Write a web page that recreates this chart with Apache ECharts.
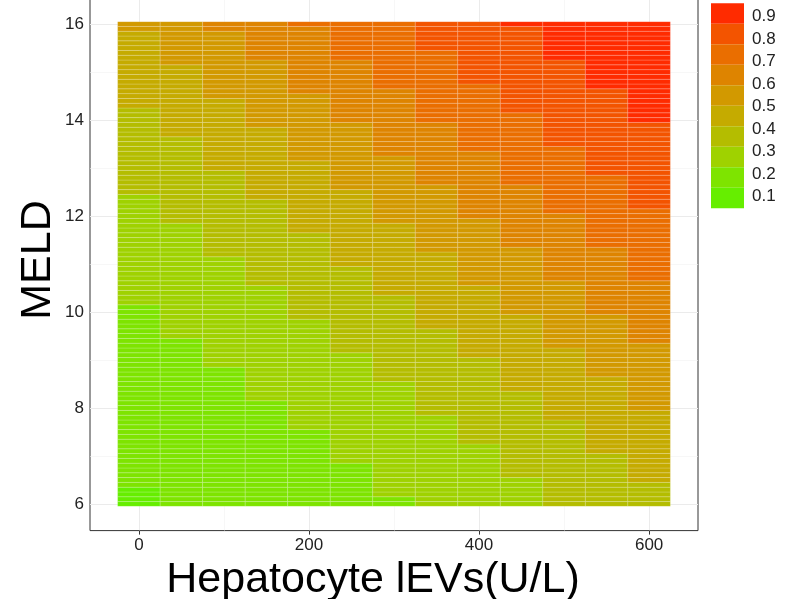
<!DOCTYPE html>
<html>
<head>
<meta charset="utf-8">
<title>MELD vs Hepatocyte lEVs</title>
<script src="https://cdn.jsdelivr.net/npm/echarts@6/dist/echarts.min.js"></script>
<style>
  html, body { margin: 0; padding: 0; background: #fff; }
  #chart { width: 798px; height: 599px; }
</style>
</head>
<body>
<div id="chart"></div>
<script>
// x categories (Hepatocyte lEVs, U/L) - one tile column each
const xValues = [0, 50, 100, 150, 200, 250, 300, 350, 400, 450, 500, 550, 600];
// MELD rows 6.0 .. 16.0 by 0.1
const meldFrom = 6, meldTo = 16, meldStep = 0.1;
// probability for each colour level (1..10)
const levelValues = [0.094, 0.185, 0.276, 0.367, 0.458, 0.55, 0.641, 0.732, 0.823, 0.914];
// level of the bottom row in every column
const bottomLevel = [1, 2, 2, 2, 2, 2, 2, 3, 3, 3, 4, 4, 4];
// MELD where the column goes up one level
const levelSteps = [
  [6.4, 10.2, 12.5, 14.3, 15.9],
  [9.5, 11.9, 13.7, 15.2],
  [8.9, 11.2, 13.0, 14.5, 15.9],
  [8.2, 10.6, 12.4, 13.9, 15.3],
  [7.6, 9.9, 11.7, 13.2, 14.6, 16.0],
  [6.9, 9.2, 11.0, 12.6, 14.0, 15.3],
  [6.2, 8.6, 10.4, 11.9, 13.3, 14.7],
  [7.9, 9.7, 11.3, 12.7, 14.0, 15.5],
  [7.3, 9.1, 10.6, 12.0, 13.4, 14.8],
  [6.6, 8.4, 10.0, 11.4, 12.7, 14.2, 16.0],
  [7.8, 9.3, 10.7, 12.1, 13.5, 15.3],
  [7.1, 8.7, 10.0, 11.4, 12.9, 14.7],
  [6.5, 8.0, 9.4, 10.7, 12.2, 14.0]
];
// colour bar
const barMin = 0.048, barMax = 0.96;
const barLabels = [0.1, 0.2, 0.3, 0.4, 0.5, 0.6, 0.7, 0.8, 0.9];
const xTicks = [0, 200, 400, 600], xMinor = [100, 300, 500];
const yTicks = [6, 8, 10, 12, 14, 16], yMinor = [7, 9, 11, 13, 15];

const levelColors = ['#66EE00', '#7EE400', '#9FD200', '#B4BD00', '#C5AB00',
                     '#D29900', '#DE8400', '#EA6E00', '#F35400', '#FF2B00'];

let cells = [];
for (let c = 0; c < xValues.length; c++) {
  const nRows = Math.round((meldTo - meldFrom) / meldStep);
  for (let k = 0; k <= nRows; k++) {
    const meld = Math.round((meldFrom + k * meldStep) * 10) / 10;
    const lvl = bottomLevel[c] + levelSteps[c].filter(s => meld >= s - 1e-9).length;
    cells.push([xValues[c], meld, levelValues[lvl - 1]]);
  }
}

let pieces = [];
const binW = (barMax - barMin) / levelColors.length;
for (let i = 0; i < levelColors.length; i++) {
  pieces.push({ min: barMin + i * binW, max: barMin + (i + 1) * binW, color: levelColors[i] });
}

const halfW = 25, halfH = 0.05;
function renderTile(params, api) {
  const x = api.value(0), y = api.value(1);
  const p0 = api.coord([x - halfW, y + halfH]);
  const p1 = api.coord([x + halfW, y - halfH]);
  return {
    type: 'rect',
    shape: { x: p0[0], y: p0[1], width: p1[0] - p0[0], height: p1[1] - p0[1] },
    style: { fill: api.visual('color'), stroke: 'rgba(255,255,255,0.3)', lineWidth: 0.6 }
  };
}

const font = "'Liberation Sans', Arial, Helvetica, sans-serif";
const chart = echarts.init(document.getElementById('chart'));
chart.setOption({
  animation: false,
  backgroundColor: '#fff',
  textStyle: { fontFamily: font },
  grid: [
    { left: 90, top: -2.6, width: 608, height: 533.2, show: true, outerBoundsMode: 'none',
      containLabel: false, borderColor: '#333', borderWidth: 1, backgroundColor: '#fff' },
    { left: 711, top: 3.3, width: 33, height: 205, outerBoundsMode: 'none', containLabel: false }
  ],
  xAxis: [
    {
      type: 'value', gridIndex: 0, min: -57.5, max: 657.5, position: 'bottom',
      name: 'Hepatocyte lEVs(U/L)', nameLocation: 'middle', nameGap: 22,
      nameTextStyle: { fontSize: 43, color: '#000', fontFamily: font, padding: [0, 42, 0, 0] },
      axisLine: { show: false },
      axisTick: { show: true, length: 4, lineStyle: { color: '#333' }, customValues: xTicks },
      axisLabel: { fontSize: 17, color: '#222', margin: 6, customValues: xTicks },
      splitLine: { show: true, lineStyle: { color: '#EBEBEB', width: 1 } }
    },
    {
      type: 'value', gridIndex: 0, min: -57.5, max: 657.5, position: 'top',
      axisLine: { show: false }, axisLabel: { show: false },
      axisTick: { show: false, customValues: xMinor },
      splitLine: { show: true, lineStyle: { color: '#F2F2F2', width: 0.6 } }
    },
    { type: 'value', gridIndex: 1, min: 0, max: 1, show: false }
  ],
  yAxis: [
    {
      type: 'value', gridIndex: 0, min: 5.445, max: 16.555, position: 'left',
      name: 'MELD', nameLocation: 'middle', nameGap: 30, nameMoveOverlap: false,
      nameTextStyle: { fontSize: 43, color: '#000', fontFamily: font, padding: [0, 0, 0, 8] },
      axisLine: { show: false },
      axisTick: { show: true, length: 4, lineStyle: { color: '#333' }, customValues: yTicks },
      axisLabel: { fontSize: 17, color: '#222', margin: 6, customValues: yTicks },
      splitLine: { show: true, lineStyle: { color: '#EBEBEB', width: 1 } }
    },
    {
      type: 'value', gridIndex: 0, min: 5.445, max: 16.555, position: 'right',
      axisLine: { show: false }, axisLabel: { show: false },
      axisTick: { show: false, customValues: yMinor },
      splitLine: { show: true, lineStyle: { color: '#F2F2F2', width: 0.6 } }
    },
    {
      type: 'value', gridIndex: 1, min: barMin, max: barMax, position: 'right',
      axisLine: { show: false }, axisTick: { show: false, customValues: barLabels },
      splitLine: { show: false },
      axisLabel: { fontSize: 17, color: '#222', margin: 8, customValues: barLabels }
    }
  ],
  visualMap: {
    type: 'piecewise',
    seriesIndex: 0,
    dimension: 2,
    pieces: pieces,
    orient: 'vertical',
    left: 711, top: 3.3,
    padding: 0,
    itemWidth: 33, itemHeight: 20.5, itemGap: 0,
    itemSymbol: 'rect',
    showLabel: false,
    selectedMode: false
  },
  series: [{
    type: 'custom',
    xAxisIndex: 0, yAxisIndex: 0,
    renderItem: renderTile,
    data: cells,
    encode: { x: 0, y: 1 },
    z: 3
  }]
});
</script>
</body>
</html>
